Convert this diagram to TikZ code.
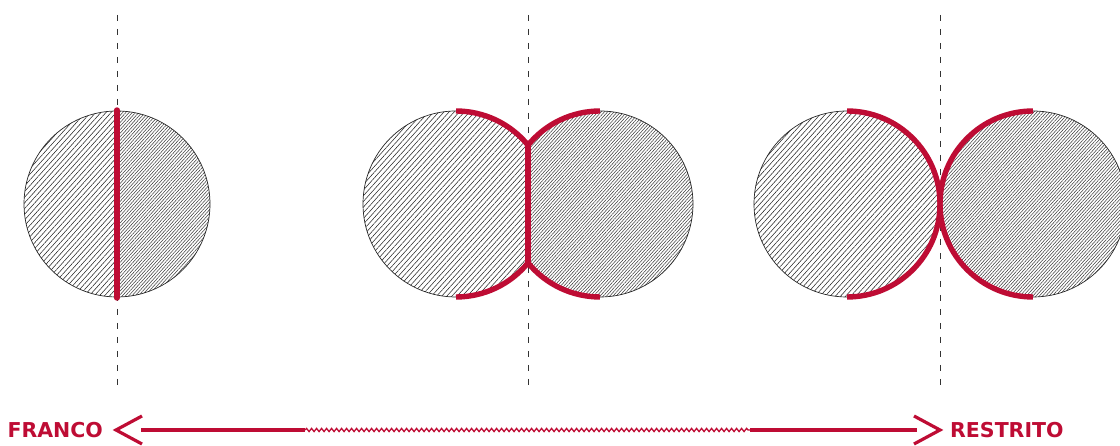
\documentclass[tikz,border=0pt]{standalone}
\usepackage{fontspec}
\setsansfont{DejaVu Sans}
\usetikzlibrary{patterns.meta, decorations.pathmorphing}

\definecolor{crimson}{RGB}{190,12,52}

\begin{document}
\begin{tikzpicture}[x=1pt, y=1pt,
    widehatch/.style={pattern={Lines[angle=48, distance=3.8pt, line width=0.55pt]}, pattern color=black!85},
    densehatch/.style={pattern={Lines[angle=48, distance=2.4pt, line width=0.55pt]}, pattern color=black!75},
    outline/.style={draw=black!85, line width=0.7pt},
    axis/.style={draw=black!80, line width=0.6pt, dash pattern=on 6pt off 8pt},
    contact/.style={draw=crimson, line width=5.4pt},
    scaleline/.style={draw=crimson, line width=3.2pt},
    label/.style={font=\sffamily\bfseries\fontsize{20.5}{24}\selectfont, text=crimson, inner sep=0pt}]

    \useasboundingbox (0,0) rectangle (1120,446);

    % Axes
    \foreach \ax in {117, 528, 940}
        \path [axis] (\ax,431) -- (\ax,56);

    % Case 1: one circle split in two halves
    \coordinate (c1) at (117,242);
    \begin{scope}
        \clip (0,0) rectangle (117,446);
        \fill [widehatch] (c1) circle (93);
    \end{scope}
    \begin{scope}
        \clip (117,0) rectangle (300,446);
        \fill [densehatch] (c1) circle (93);
    \end{scope}
    \path [outline] (c1) circle (93);
    \path [contact, line cap=round] (117,336) -- (117,148);

    % Case 2: overlapping circles
    \coordinate (c2a) at (456,242);
    \coordinate (c2b) at (600,242);
    \begin{scope}
        \clip (300,0) rectangle (528,446);
        \fill [widehatch] (c2a) circle (93);
        \path [outline] (c2a) circle (93);
    \end{scope}
    \begin{scope}
        \clip (528,0) rectangle (740,446);
        \fill [densehatch] (c2b) circle (93);
        \path [outline] (c2b) circle (93);
    \end{scope}
    \path [contact] (456,335) arc [start angle=90, end angle=39.3, radius=93];
    \path [contact] (456,149) arc [start angle=-90, end angle=-39.3, radius=93];
    \path [contact] (600,335) arc [start angle=90, end angle=140.7, radius=93];
    \path [contact] (600,149) arc [start angle=-90, end angle=-140.7, radius=93];
    \path [contact] (528,301.4) -- (528,182.6);

    % Case 3: tangent circles
    \coordinate (c3a) at (847,242);
    \coordinate (c3b) at (1033,242);
    \fill [widehatch] (c3a) circle (93);
    \path [outline] (c3a) circle (93);
    \fill [densehatch] (c3b) circle (93);
    \path [outline] (c3b) circle (93);
    \path [contact] (847,335) arc [start angle=90, end angle=-90, radius=93];
    \path [contact] (1033,335) arc [start angle=90, end angle=270, radius=93];

    % Scale
    \node [label, anchor=east] (franco) at (103,16) {FRANCO};
    \node [label, anchor=west] (restrito) at (950,16) {RESTRITO};
    \coordinate (ltip) at (116,16);
    \coordinate (rtip) at (940,16);
    \coordinate (lwave) at (305,16);
    \coordinate (rwave) at (750,16);
    \path [scaleline, line join=miter] ([shift={(26,14)}]ltip) -- (ltip) -- ([shift={(26,-14)}]ltip);
    \path [scaleline, line join=miter] ([shift={(-26,14)}]rtip) -- (rtip) -- ([shift={(-26,-14)}]rtip);
    \path [scaleline] ([xshift=25]ltip) -- (lwave);
    \path [draw=crimson, line width=1.3pt, decorate,
        decoration={snake, amplitude=1.6pt, segment length=5pt}] (lwave) -- (rwave);
    \path [scaleline] (rwave) -- ([xshift=-23]rtip);
\end{tikzpicture}
\end{document}
